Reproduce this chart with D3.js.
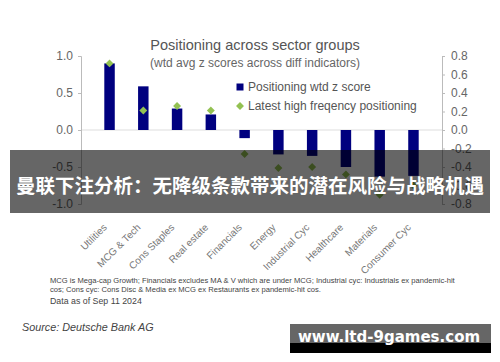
<!DOCTYPE html>
<html>
<head>
<meta charset="utf-8">
<script src="https://cdn.jsdelivr.net/npm/d3@7"></script>
<style>
  body { margin: 0; background: #fff; }
  svg { display: block; font-family: "Liberation Sans", Arial, sans-serif; }
  .axis path, .axis line { stroke: #bbb; }
  .axis text { fill: #666; font-size: 12px; }
</style>
</head>
<body>
<div id="chart"></div>
<script>
const categories = ["Utilities", "MCG & Tech", "Cons Staples", "Real estate", "Financials",
  "Energy", "Industrial Cyc", "Healthcare", "Materials", "Consumer Cyc"];
const zScores = [0.90, 0.59, 0.29, 0.21, -0.11, -0.33, -0.35, -0.50, -0.63, -0.62];
const highFreq = [0.72, 0.21, 0.26, 0.21, -0.26, -0.41, -0.40, -0.48, -0.70, -0.60];
const leftTicks = [-1.0, -0.5, 0.0, 0.5, 1.0];
const rightTicks = [-0.8, -0.6, -0.4, -0.2, 0.0, 0.2, 0.4, 0.6, 0.8];

const width = 500, height = 362;
const margin = { top: 56, right: 58, bottom: 158, left: 81 };
const innerW = width - margin.left - margin.right;
const innerH = height - margin.top - margin.bottom;

const svg = d3.select("#chart").append("svg")
  .attr("width", width)
  .attr("height", height);

const plot = svg.append("g")
  .attr("transform", `translate(${margin.left}, ${margin.top})`);

const x = d3.scaleBand().domain(categories).range([0, innerW]).padding(0.69);
const yL = d3.scaleLinear().domain([-1, 1]).range([innerH, 0]);
const yR = d3.scaleLinear().domain([-0.8, 0.8]).range([innerH, 0]);

// zero line
plot.append("line")
  .attr("x1", 0).attr("x2", innerW)
  .attr("y1", yL(0)).attr("y2", yL(0))
  .attr("stroke", "#ddd");

const fmt = d => d3.format(".1f")(d).replace("−", "-");
plot.append("g").attr("class", "axis")
  .call(d3.axisLeft(yL).tickValues(leftTicks).tickSize(3).tickPadding(5).tickFormat(fmt));
plot.append("g").attr("class", "axis")
  .attr("transform", `translate(${innerW},0)`)
  .call(d3.axisRight(yR).tickValues(rightTicks).tickSize(3).tickPadding(6).tickFormat(fmt));

plot.selectAll("rect.bar")
  .data(zScores)
  .enter()
  .append("rect")
  .attr("class", "bar")
  .attr("x", (d, i) => x(categories[i]))
  .attr("width", x.bandwidth())
  .attr("y", d => yL(Math.max(0, d)))
  .attr("height", d => Math.abs(yL(d) - yL(0)))
  .attr("fill", "#00007f");

const diamond = d3.symbol().type(d3.symbolDiamond2).size(40);
plot.selectAll("path.hf")
  .data(highFreq)
  .enter()
  .append("path")
  .attr("class", "hf")
  .attr("d", diamond)
  .attr("transform", (d, i) => `translate(${x(categories[i]) + x.bandwidth() / 2},${yR(d)})`)
  .attr("fill", "#93c152");

// x labels
plot.selectAll("text.cat")
  .data(categories)
  .enter()
  .append("text")
  .attr("class", "cat")
  .attr("transform", d => `translate(${x(d) + x.bandwidth() / 2 - 2},${innerH + 24}) rotate(-45)`)
  .attr("text-anchor", "end")
  .attr("fill", "#777")
  .style("font-size", "10px")
  .text(d => d);

// titles
svg.append("text").attr("x", 255).attr("y", 50).attr("text-anchor", "middle")
  .attr("fill", "#555").style("font-size", "14.5px").text("Positioning across sector groups");
svg.append("text").attr("x", 255).attr("y", 67).attr("text-anchor", "middle")
  .attr("fill", "#666").style("font-size", "12px").text("(wtd avg z scores across diff indicators)");

// legend
const legend = svg.append("g").attr("transform", "translate(240, 87)");
legend.append("rect").attr("x", -3.5).attr("y", -3.5).attr("width", 7).attr("height", 7).attr("fill", "#00007f");
legend.append("text").attr("x", 8).attr("y", 4).attr("fill", "#555").style("font-size", "12px")
  .text("Positioning wtd z score");
legend.append("path").attr("d", diamond).attr("transform", "translate(0,19)").attr("fill", "#93c152");
legend.append("text").attr("x", 8).attr("y", 23).attr("fill", "#555").style("font-size", "12px")
  .text("Latest high freqency positioning");

// notes
const notes = svg.append("g").attr("fill", "#444");
notes.append("text").attr("x", 50).attr("y", 283).style("font-size", "7.6px")
  .text("MCG is Mega-cap Growth; Financials excludes MA & V which are under MCG;  Industrial cyc: Industrials ex pandemic-hit");
notes.append("text").attr("x", 50).attr("y", 292).style("font-size", "7.6px")
  .text("cos; Cons cyc: Cons Disc & Media ex MCG ex Restaurants ex pandemic-hit cos.");
notes.append("text").attr("x", 50).attr("y", 304).style("font-size", "8.8px")
  .text("Data as of Sep 11 2024");
svg.append("text").attr("x", 22).attr("y", 331).attr("fill", "#444")
  .style("font-size", "10.8px").style("font-style", "italic")
  .text("Source: Deutsche Bank AG");

// overlay banner
svg.append("rect").attr("x", 10).attr("y", 150).attr("width", 480).attr("height", 63)
  .attr("fill", "#000").attr("opacity", 0.6);
svg.append("text").attr("x", 250).attr("y", 193).attr("text-anchor", "middle")
  .attr("fill", "#fff").style("font-family", "'Noto Sans CJK SC', sans-serif")
  .style("font-weight", "bold").style("font-size", "19.5px")
  .text("曼联下注分析：无降级条款带来的潜在风险与战略机遇");

// watermark
svg.append("rect").attr("x", 290).attr("y", 324).attr("width", 201).attr("height", 20).attr("fill", "#666");
svg.append("rect").attr("x", 290).attr("y", 343).attr("width", 201).attr("height", 10).attr("fill", "#000");
svg.append("text").attr("x", 389).attr("y", 342).attr("text-anchor", "middle")
  .attr("fill", "#fff").style("font-family", "'DejaVu Sans', sans-serif")
  .style("font-weight", "bold").style("font-size", "15px")
  .text("www.ltd-9games.com");
</script>
</body>
</html>
